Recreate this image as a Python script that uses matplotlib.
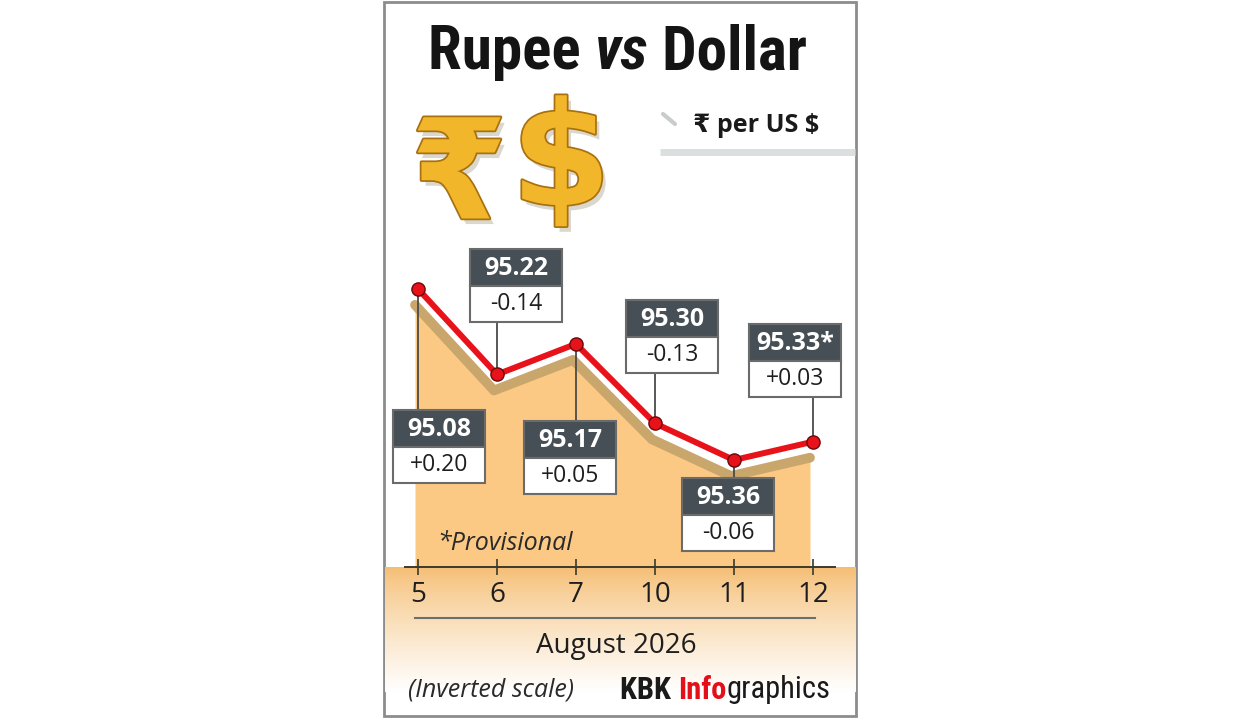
import numpy as np
import matplotlib
matplotlib.use("Agg")
import matplotlib.pyplot as plt
import matplotlib.patheffects as pe
from matplotlib.patches import Rectangle
from matplotlib.transforms import offset_copy
from matplotlib import font_manager

# data
dates = ["5", "6", "7", "10", "11", "12"]
rates = [95.08, 95.22, 95.17, 95.30, 95.36, 95.33]
rate_labels = ["95.08", "95.22", "95.17", "95.30", "95.36", "95.33*"]
changes = ["+0.20", "-0.14", "+0.05", "-0.13", "-0.06", "+0.03"]

# callout placement: (dx to box centre, dy to box top) in pixels, y pointing down
box_offsets = [(21, 121), (19, -125), (-6, 77), (17, -123), (-6, 18), (-18, -118)]
BOX_W, HEAD_H, BODY_H = 92, 37, 36

installed = {f.name for f in font_manager.fontManager.ttflist}
narrow = "DejaVu Sans"
for name in ["Liberation Sans Narrow", "Roboto Condensed", "Roboto"]:
    if name in installed:
        narrow = name
        break
body = ["Open Sans", "DejaVu Sans"]

dark = "#1e1e1e"
red = "#e8121b"
head_col = "#464f55"
fill_col = "#fcc985"
shadow_col = "#c9a66b"

fig = plt.figure(figsize=(12.4, 7.2), dpi=100)
bg = fig.add_axes([0, 0, 1, 1])
bg.axis("off")

# panel
bg.add_patch(Rectangle((384, 2), 472, 714, facecolor="white", edgecolor="#8c8c8c", lw=2, zorder=0))

# orange band under the axis, fading to white
top = np.array(matplotlib.colors.to_rgb("#f5bd72"))
t = np.linspace(0, 1, 200) ** 0.8
grad = top[None, :] * (1 - t[:, None]) + np.ones(3)[None, :] * t[:, None]
grad = np.repeat(grad[:, None, :], 2, axis=1)
bg.imshow(grad, extent=[384.5, 855.5, 692, 567], origin="upper", aspect="auto", zorder=1)
bg.set_xlim(0, 1240)
bg.set_ylim(720, 0)

# title
renderer = fig.canvas.get_renderer()
x = 428
for s, style in [("Rupee ", "normal"), ("vs", "italic"), (" Dollar", "normal")]:
    tt = bg.text(x, 52, s, fontsize=44, fontweight="bold", style=style, family=[narrow, "DejaVu Sans"],
                 color="#141414", va="center", ha="left", zorder=5)
    x += tt.get_window_extent(renderer).width

# gold symbols
gold_fx = [pe.SimplePatchShadow(offset=(3, -4), alpha=0.2), pe.withStroke(linewidth=2.5, foreground="#a8700e")]
bg.text(459, 180, "\u20b9", fontsize=100, fontweight="bold", family="DejaVu Sans", color="#f1b62a",
        ha="center", va="center", path_effects=gold_fx, zorder=5)
bg.text(561, 165, "$", fontsize=104, fontweight="bold", family="DejaVu Sans", color="#f1b62a",
        ha="center", va="center", path_effects=gold_fx, zorder=5)

# unit label
bg.plot([663, 675], [114, 124], color="#c8cccc", lw=3, solid_capstyle="round", zorder=4)
bg.plot([660, 855], [152, 152], color="#dcdfdf", lw=5, solid_capstyle="butt", zorder=4)
bg.text(693, 126, "\u20b9 per US $", fontsize=18, fontweight="bold", family=["Open Sans", "DejaVu Sans"],
        color="#1a1a1a", va="center", ha="left", zorder=5)

# chart axes: x categories 79 px apart, inverted y scale
ax = fig.add_axes([405 / 1240, (720 - 567) / 720, 430 / 1240, 327 / 720])
ax.patch.set_alpha(0)
xs = np.arange(len(dates))
ax.set_xlim(-13 / 79, 5 + 22 / 79)
ax.set_ylim(95.535, 95.0)

shadow_tf = offset_copy(ax.transData, fig=fig, x=-3, y=-16, units="dots")
ax.fill_between(xs, rates, 95.7, color=fill_col, lw=0, transform=shadow_tf, zorder=1)
ax.plot(xs, rates, color=shadow_col, lw=7, solid_capstyle="round", solid_joinstyle="round",
        transform=shadow_tf, zorder=2)
ax.plot(xs, rates, color=red, lw=4.3, solid_joinstyle="round", zorder=4)
ax.plot(xs, rates, "o", ms=9.5, mfc=red, mec="#6a0a0a", mew=1, zorder=5)

for s in ["left", "right", "top"]:
    ax.spines[s].set_visible(False)
ax.spines["bottom"].set_color("#3b3a2c")
ax.spines["bottom"].set_linewidth(1.4)
ax.set_yticks([])
ax.set_xticks(xs)
ax.set_xticklabels(dates, fontsize=20, family=body, color=dark)
ax.tick_params(axis="x", direction="inout", length=12, width=1.2, color="#3b3a2c", pad=4)

# overlay for callouts and notes
fg = fig.add_axes([0, 0, 1, 1])
fg.patch.set_alpha(0)
fg.axis("off")
fg.set_xlim(0, 1240)
fg.set_ylim(720, 0)

# callouts, placed from the data points through the axes transform
to_fg = fg.transData.inverted()
for i, (v, lab, ch) in enumerate(zip(rates, rate_labels, changes)):
    px, py = to_fg.transform(ax.transData.transform((xs[i], v)))
    dx, dy = box_offsets[i]
    cx = px + dx
    btop = py + dy
    h = HEAD_H + BODY_H
    end = btop if dy > 0 else btop + h
    ax.plot([px, px], [py, end], color="#4a4a4a", lw=1.3, transform=fg.transData, zorder=3)
    fg.add_patch(Rectangle((cx - BOX_W / 2, btop), BOX_W, HEAD_H, facecolor=head_col, edgecolor="#6b6b6b",
                           lw=1.5, zorder=6))
    fg.add_patch(Rectangle((cx - BOX_W / 2, btop + HEAD_H), BOX_W, BODY_H, facecolor="white",
                           edgecolor="#6b6b6b", lw=1.5, zorder=6))
    fg.text(cx, btop + HEAD_H / 2 + 1, lab, fontsize=18, fontweight="bold", family=body, color="white",
            ha="center", va="center", zorder=7)
    fg.text(cx, btop + HEAD_H + BODY_H / 2, ch, fontsize=16.5, family=body, color=dark,
            ha="center", va="center", zorder=7)

# footer texts
fg.text(437, 543, "*Provisional", fontsize=18, style="italic", family=body, color="#2a2a2a",
        ha="left", va="center", zorder=5)
bg.plot([415, 815], [618, 618], color="#6e6e6e", lw=1.5, zorder=4)
bg.text(616, 646, "August 2026", fontsize=20, family=body, color=dark, ha="center", va="center", zorder=5)
bg.text(408, 690, "(Inverted scale)", fontsize=18, style="italic", family=body, color="#2a2a2a",
        ha="left", va="center", zorder=5)

x = 620
for s, col, w in [("KBK ", "#1a1a1a", "bold"), ("Info", "#e3101a", "bold"), ("graphics", "#1a1a1a", "normal")]:
    tt = bg.text(x, 690, s, fontsize=22, fontweight=w, family=[narrow, "DejaVu Sans"], color=col,
                 ha="left", va="center", zorder=5)
    x += tt.get_window_extent(renderer).width

fig.savefig("out.png", dpi=100)
